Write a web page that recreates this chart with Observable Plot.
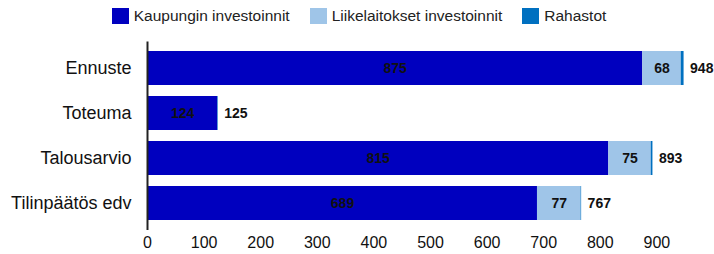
<!DOCTYPE html>
<html>
<head>
<meta charset="utf-8">
<script src="https://cdn.jsdelivr.net/npm/d3@7"></script>
<script src="https://cdn.jsdelivr.net/npm/@observablehq/plot@0.6"></script>
<style>
  html, body { margin: 0; padding: 0; background: #fff; }
  body { width: 714px; height: 254px; overflow: hidden; font-family: "Liberation Sans", Arial, sans-serif; }
  #legend { height: 34px; display: flex; justify-content: center; align-items: center; gap: 20px; font-size: 15.5px; color: #222; padding-left: 4px; padding-bottom: 2px; box-sizing: border-box; }
  #legend .item { display: flex; align-items: center; gap: 5px; }
  #legend .sw { width: 17px; height: 16px; display: inline-block; }
  #chart svg { display: block; }
</style>
</head>
<body>
<div id="legend"></div>
<div id="chart"></div>
<script>
const categories = ["Ennuste", "Toteuma", "Talousarvio", "Tilinpäätös edv"];
const seriesNames = ["Kaupungin investoinnit", "Liikelaitokset investoinnit", "Rahastot"];
const seriesColors = ["#0000bf", "#9fc5e8", "#0070c0"];
const kaupunki = [875, 124, 815, 689];
const liikelaitokset = [68, 0, 75, 77];
const rahastot = [5, 1, 3, 1];
const totals = [948, 125, 893, 767];
const xTicks = [0, 100, 200, 300, 400, 500, 600, 700, 800, 900];

const seriesValues = [kaupunki, liikelaitokset, rahastot];
const data = [];
categories.forEach((c, i) => {
  seriesNames.forEach((s, j) => {
    data.push({category: c, series: s, value: seriesValues[j][i]});
  });
});
const totalData = categories.map((c, i) => ({category: c, total: totals[i]}));

// legend
const legend = document.getElementById("legend");
seriesNames.forEach((s, j) => {
  const it = document.createElement("div");
  it.className = "item";
  const sw = document.createElement("span");
  sw.className = "sw";
  sw.style.background = seriesColors[j];
  const tx = document.createElement("span");
  tx.textContent = s;
  it.appendChild(sw); it.appendChild(tx);
  legend.appendChild(it);
});

const chart = Plot.plot({
  width: 714,
  height: 220,
  marginLeft: 147,
  marginRight: 1,
  marginTop: 7.5,
  marginBottom: 24,
  style: {fontFamily: "Liberation Sans, Arial, sans-serif", color: "#111"},
  x: {domain: [0, 1000]},
  y: {domain: categories, paddingInner: 0.252, paddingOuter: 0.175},
  color: {domain: seriesNames, range: seriesColors},
  marks: [
    Plot.barX(data, Plot.stackX({y: "category", x: "value", fill: "series"})),
    Plot.text(data, Plot.stackX({
      y: "category", x: "value", z: "series",
      text: d => (d.series === "Rahastot" || d.value === 0) ? "" : String(d.value),
      fontWeight: "bold", fontSize: 14, fill: "#111"
    })),
    Plot.text(totalData, {x: "total", y: "category", text: d => String(d.total), textAnchor: "start", dx: 6, fontWeight: "bold", fontSize: 14, fill: "#111"}),
    Plot.ruleX([0], {stroke: "#222", strokeWidth: 2}),
    Plot.axisY({tickSize: 0, tickPadding: 16, fontSize: 18, label: null}),
    Plot.axisX({ticks: xTicks, tickSize: 0, tickPadding: 6, fontSize: 16, label: null, tickFormat: d => String(d)})
  ]
});
document.getElementById("chart").appendChild(chart);
</script>
</body>
</html>
